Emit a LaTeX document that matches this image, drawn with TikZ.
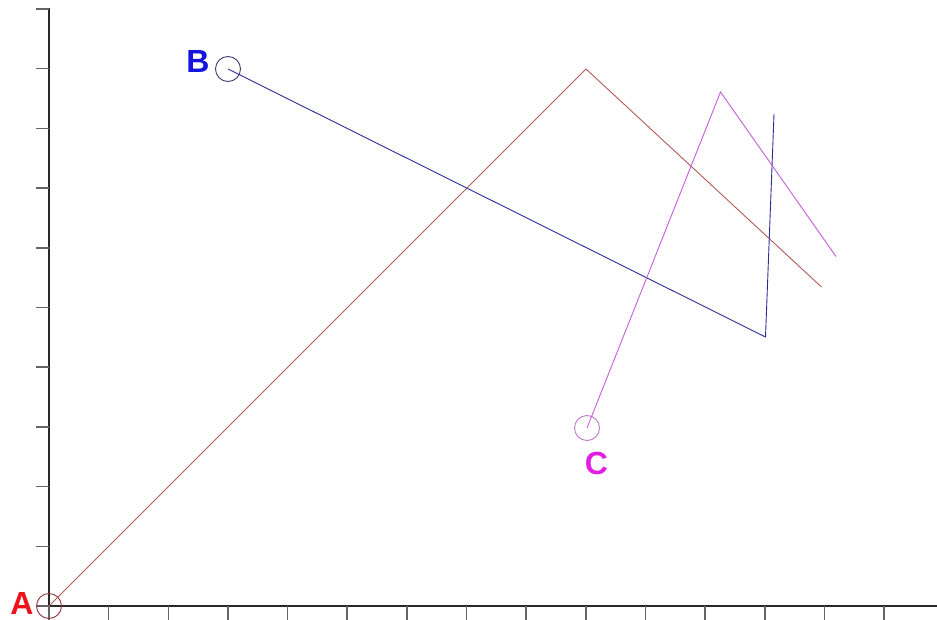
\documentclass[tikz,border=0pt]{standalone}
\usepackage{fontspec}
\setmainfont{Liberation Sans}
\definecolor{axiscol}{RGB}{40,40,40}
\definecolor{tickcol}{RGB}{100,100,100}
\definecolor{redline}{RGB}{180,90,90}
\definecolor{redcirc}{RGB}{150,50,60}
\definecolor{redlab}{RGB}{235,20,25}
\definecolor{blueline}{RGB}{45,45,150}
\definecolor{bluecirc}{RGB}{60,60,110}
\definecolor{bluelab}{RGB}{20,20,220}
\definecolor{magline}{RGB}{195,95,215}
\definecolor{magcirc}{RGB}{190,120,200}
\definecolor{maglab}{RGB}{225,30,225}
\tikzset{
  axisline/.style={draw=axiscol, line width=1.3pt},
  tickline/.style={draw=tickcol, line width=1.6pt},
  pathline/.style={line width=0.9pt},
  marker/.style={circle, draw, line width=0.9pt, minimum size=25pt, inner sep=0pt},
  ptlabel/.style={font=\fontsize{32}{36}\selectfont\bfseries, inner sep=0pt, anchor=base}
}
\begin{document}
\begin{tikzpicture}[x=1pt,y=-1pt]
\useasboundingbox (0,0) rectangle (937,620);
% axes
\coordinate (O) at (49,606);
\coordinate (Ytop) at (49,8);
\coordinate (Ybot) at (49,620);
\coordinate (Xend) at (937,606);
\draw[axisline] (Ybot) -- (Ytop);
\draw[axisline] (O) -- (Xend);
\foreach \k in {0,...,10} {
  \coordinate (yt\k) at (49,606-59.7*\k);
  \coordinate (ytl\k) at (36,606-59.7*\k);
  \draw[tickline] (ytl\k) -- (yt\k);
}
\foreach \k in {0,...,14} {
  \coordinate (xt\k) at (49+59.65*\k,606);
  \coordinate (xtb\k) at (49+59.65*\k,620);
  \draw[tickline] (xt\k) -- (xtb\k);
}
% points
\node[marker, draw=redcirc] (A) at (49,606) {};
\node[marker, draw=bluecirc] (B) at (228,69) {};
\node[marker, draw=magcirc] (C) at (587,428) {};
\coordinate (R1) at (586,69);
\coordinate (R2) at (821.5,287);
\coordinate (B1) at (765.5,337);
\coordinate (B2) at (774,114);
\coordinate (M1) at (720.5,92);
\coordinate (M2) at (836,256.5);
% paths
\draw[pathline, redline] (A.center) -- (R1) -- (R2);
\draw[pathline, blueline] (B.center) -- (B1) -- (B2);
\draw[pathline, magline] (C.center) -- (M1) -- (M2);
% labels
\node[ptlabel, text=redlab] (LA) at (22,614) {A};
\node[ptlabel, text=bluelab] (LB) at (198,73) {B};
\node[ptlabel, text=maglab] (LC) at (596.5,474) {C};
\end{tikzpicture}
\end{document}
